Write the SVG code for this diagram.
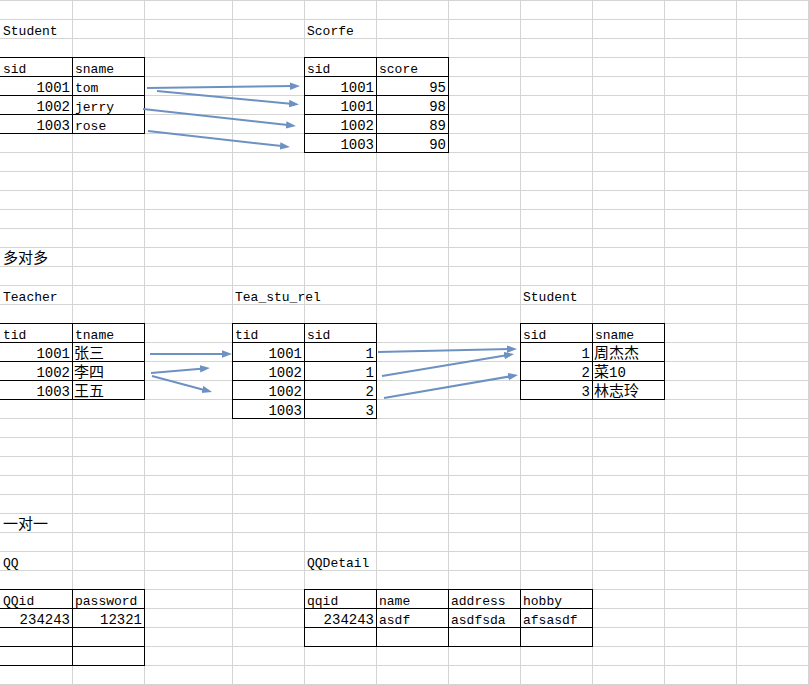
<svg xmlns="http://www.w3.org/2000/svg" width="809" height="685" viewBox="0 0 809 685">
<style>
.grid{stroke:#d4d4d4;stroke-width:1;fill:none}
.tb{stroke:#000;stroke-width:1;fill:none}
.t{font-family:"Liberation Mono","Noto Sans CJK SC",monospace;font-size:13px;fill:#000}
.n{font-family:"Liberation Mono",monospace;font-size:14px;fill:#000;text-anchor:end}
.c{font-family:"Noto Sans CJK SC","Noto Sans CJK JP",sans-serif;font-size:15px}
.arr{stroke:#6d91c2;stroke-width:2;fill:none;marker-end:url(#ah)}
</style>
<defs>
<marker id="ah" markerUnits="userSpaceOnUse" markerWidth="11" markerHeight="8" refX="4" refY="3.75" orient="auto">
<path d="M0,0 L10,3.75 L0,7.5 z" fill="#6d91c2"/>
</marker>
</defs>
<rect width="809" height="685" fill="#fff"/>
<g id="grid">
<path class="grid" d="M0 0.5H809M0 19.5H809M0 38.5H809M0 57.5H809M0 76.5H809M0 95.5H809M0 114.5H809M0 133.5H809M0 152.5H809M0 171.5H809M0 190.5H809M0 209.5H809M0 228.5H809M0 247.5H809M0 266.5H809M0 285.5H809M0 304.5H809M0 323.5H809M0 342.5H809M0 361.5H809M0 380.5H809M0 399.5H809M0 418.5H809M0 437.5H809M0 456.5H809M0 475.5H809M0 494.5H809M0 513.5H809M0 532.5H809M0 551.5H809M0 570.5H809M0 589.5H809M0 608.5H809M0 627.5H809M0 646.5H809M0 665.5H809M0 684.5H809"/>
<path class="grid" d="M72.5 0V685M144.5 0V685M232.5 0V685M304.5 0V685M376.5 0V685M448.5 0V685M520.5 0V685M592.5 0V685M664.5 0V685M736.5 0V685M808.5 0V685"/>
</g>
<g id="labels">
<text class="t" x="3" y="35">Student</text>
<text class="t" x="307" y="35">Scorfe</text>
<text class="t" x="3" y="263"><tspan class="c">多对多</tspan></text>
<text class="t" x="3" y="301">Teacher</text>
<text class="t" x="235" y="301">Tea_stu_rel</text>
<text class="t" x="523" y="301">Student</text>
<text class="t" x="3" y="529"><tspan class="c">一对一</tspan></text>
<text class="t" x="3" y="567">QQ</text>
<text class="t" x="307" y="567">QQDetail</text>
</g>
<g id="table-student">
<path class="tb" d="M0 57.5H145M0 76.5H145M0 95.5H145M0 114.5H145M0 133.5H145M72.5 57V134M144.5 57V134"/>
<text class="t" x="3" y="73">sid</text><text class="t" x="75" y="73">sname</text>
<text class="n" x="70" y="92">1001</text><text class="t" x="75" y="92">tom</text>
<text class="n" x="70" y="111">1002</text><text class="t" x="75" y="111">jerry</text>
<text class="n" x="70" y="130">1003</text><text class="t" x="75" y="130">rose</text>
</g>
<g id="table-scorfe">
<path class="tb" d="M304 57.5H449M304 76.5H449M304 95.5H449M304 114.5H449M304 133.5H449M304 152.5H449M304.5 57V153M376.5 57V153M448.5 57V153"/>
<text class="t" x="307" y="73">sid</text><text class="t" x="379" y="73">score</text>
<text class="n" x="374" y="92">1001</text><text class="n" x="446" y="92">95</text>
<text class="n" x="374" y="111">1001</text><text class="n" x="446" y="111">98</text>
<text class="n" x="374" y="130">1002</text><text class="n" x="446" y="130">89</text>
<text class="n" x="374" y="149">1003</text><text class="n" x="446" y="149">90</text>
</g>
<g id="table-teacher">
<path class="tb" d="M0 323.5H145M0 342.5H145M0 361.5H145M0 380.5H145M0 399.5H145M72.5 323V400M144.5 323V400"/>
<text class="t" x="3" y="339">tid</text><text class="t" x="75" y="339">tname</text>
<text class="n" x="70" y="358">1001</text><text class="t" x="74" y="358"><tspan class="c">张三</tspan></text>
<text class="n" x="70" y="377">1002</text><text class="t" x="74" y="377"><tspan class="c">李四</tspan></text>
<text class="n" x="70" y="396">1003</text><text class="t" x="74" y="396"><tspan class="c">王五</tspan></text>
</g>
<g id="table-tea-stu-rel">
<path class="tb" d="M232 323.5H377M232 342.5H377M232 361.5H377M232 380.5H377M232 399.5H377M232 418.5H377M232.5 323V419M304.5 323V419M376.5 323V419"/>
<text class="t" x="235" y="339">tid</text><text class="t" x="307" y="339">sid</text>
<text class="n" x="302" y="358">1001</text><text class="n" x="374" y="358">1</text>
<text class="n" x="302" y="377">1002</text><text class="n" x="374" y="377">1</text>
<text class="n" x="302" y="396">1002</text><text class="n" x="374" y="396">2</text>
<text class="n" x="302" y="415">1003</text><text class="n" x="374" y="415">3</text>
</g>
<g id="table-student2">
<path class="tb" d="M520 323.5H665M520 342.5H665M520 361.5H665M520 380.5H665M520 399.5H665M520.5 323V400M592.5 323V400M664.5 323V400"/>
<text class="t" x="523" y="339">sid</text><text class="t" x="595" y="339">sname</text>
<text class="n" x="590" y="358">1</text><text class="t" x="594" y="358"><tspan class="c">周杰杰</tspan></text>
<text class="n" x="590" y="377">2</text><text class="t" x="594" y="377"><tspan class="c">菜</tspan><tspan font-size="14">10</tspan></text>
<text class="n" x="590" y="396">3</text><text class="t" x="594" y="396"><tspan class="c">林志玲</tspan></text>
</g>
<g id="table-qq">
<path class="tb" d="M0 589.5H145M0 608.5H145M0 627.5H145M0 646.5H145M0 665.5H145M72.5 589V666M144.5 589V666"/>
<text class="t" x="3" y="605">QQid</text><text class="t" x="75" y="605">password</text>
<text class="n" x="70" y="624">234243</text><text class="n" x="142" y="624">12321</text>
</g>
<g id="table-qqdetail">
<path class="tb" d="M304 589.5H593M304 608.5H593M304 627.5H593M304 646.5H593M304.5 589V647M376.5 589V647M448.5 589V647M520.5 589V647M592.5 589V647"/>
<text class="t" x="307" y="605">qqid</text><text class="t" x="379" y="605">name</text><text class="t" x="451" y="605">address</text><text class="t" x="523" y="605">hobby</text>
<text class="n" x="374" y="624">234243</text><text class="t" x="379" y="624">asdf</text><text class="t" x="451" y="624">asdfsda</text><text class="t" x="523" y="624">afsasdf</text>
</g>
<g id="connectors">
<line class="arr" x1="147" y1="88" x2="294" y2="86.1"/>
<line class="arr" x1="157" y1="91" x2="293" y2="103.9"/>
<line class="arr" x1="143" y1="109" x2="290" y2="125.3"/>
<line class="arr" x1="148" y1="131" x2="284" y2="146.3"/>
<line class="arr" x1="150" y1="354" x2="226" y2="354"/>
<line class="arr" x1="151" y1="373" x2="204" y2="368.5"/>
<line class="arr" x1="152" y1="376" x2="206.2" y2="390.5"/>
<line class="arr" x1="378" y1="352" x2="511" y2="349.1"/>
<line class="arr" x1="382" y1="376" x2="508.1" y2="355"/>
<line class="arr" x1="384" y1="398" x2="512.1" y2="376"/>
</g>
</svg>
